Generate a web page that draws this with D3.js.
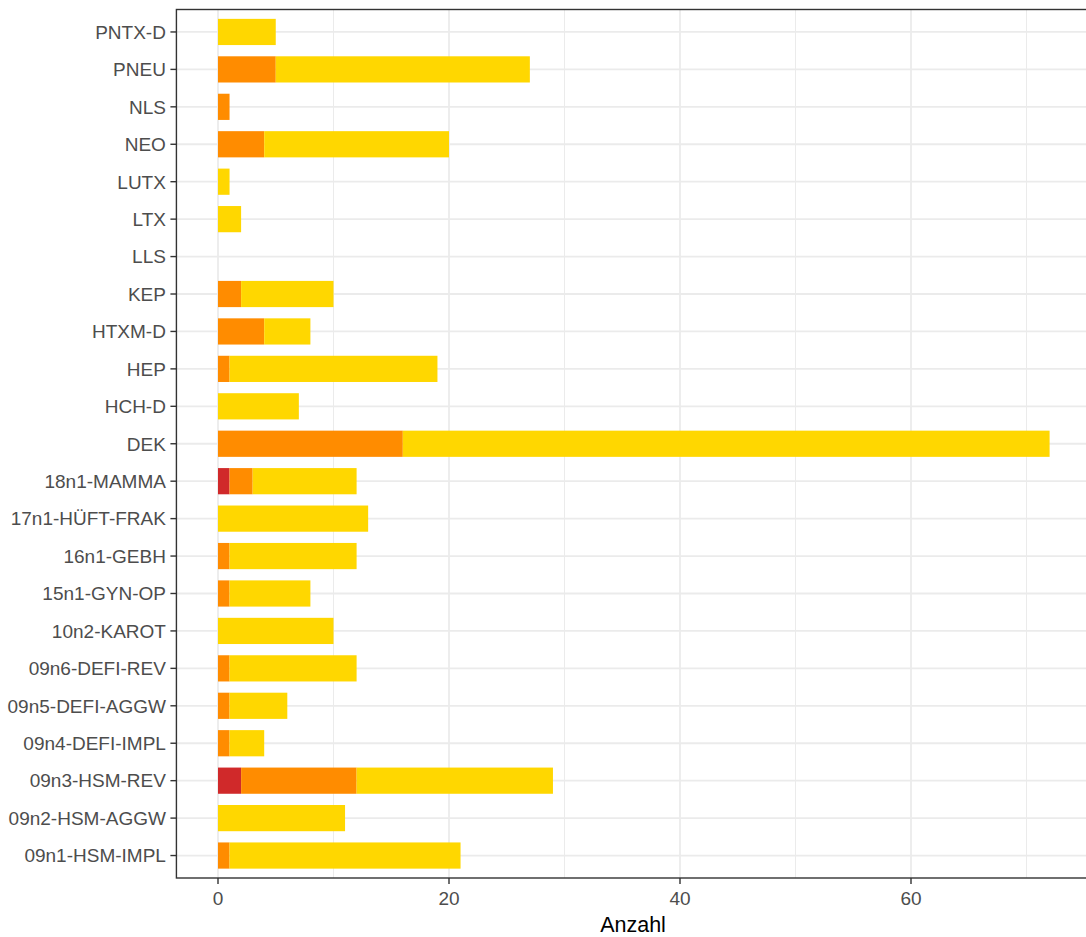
<!DOCTYPE html>
<html><head><meta charset="utf-8">
<script src="https://cdn.jsdelivr.net/npm/d3@7"></script>
<style>body{margin:0;background:#fff}svg{display:block}text{font-family:"Liberation Sans",Arial,sans-serif}</style>
</head><body><svg id="c" width="1086" height="937"></svg>
<script>
const categories = ["09n1-HSM-IMPL","09n2-HSM-AGGW","09n3-HSM-REV","09n4-DEFI-IMPL","09n5-DEFI-AGGW","09n6-DEFI-REV","10n2-KAROT","15n1-GYN-OP","16n1-GEBH","17n1-HÜFT-FRAK","18n1-MAMMA","DEK","HCH-D","HEP","HTXM-D","KEP","LLS","LTX","LUTX","NEO","NLS","PNEU","PNTX-D"];
const redValues    = [0,0,2,0,0,0,0,0,0,0,1,0,0,0,0,0,0,0,0,0,0,0,0];
const orangeValues = [1,0,10,1,1,1,0,1,1,0,2,16,0,1,4,2,0,0,0,4,1,5,0];
const yellowValues = [20,11,17,3,5,11,10,7,11,13,9,56,7,18,4,8,0,2,1,16,0,22,5];
const seriesNames = ["red","orange","yellow"];
const seriesColors = ["#d0292a","#ff8c00","#ffd700"];
const xTicks = [0,20,40,60];
const xMinor = [10,30,50,70];

const rows = categories.map((c,i)=>({cat:c, red:redValues[i], orange:orangeValues[i], yellow:yellowValues[i]}));
const stack = d3.stack().keys(seriesNames)(rows);

const svg = d3.select("#c");
const T=9.5, B=878;
const maxV = d3.max(rows, d=>d.red+d.orange+d.yellow);
const pad = maxV*0.05;
const unit = 11.55;
const L = 218 - pad*unit, R = 218 + (maxV+pad)*unit;
const x = d3.scaleLinear().domain([-pad, maxV+pad]).range([L,R]);
const n = categories.length;
const y = d3.scalePoint().domain(categories).range([B - (B-T)/(n-1+1.2)*0.6, T + (B-T)/(n-1+1.2)*0.6]);
const step = y.step();
const yc = c => y(c);
const bh = step*0.7;

const g = svg.append("g");
g.selectAll(".mg").data(xMinor).join("line").attr("x1",d=>x(d)).attr("x2",d=>x(d)).attr("y1",T).attr("y2",B).attr("stroke","#ebebeb").attr("stroke-width",1);
g.selectAll(".Mg").data(xTicks).join("line").attr("x1",d=>x(d)).attr("x2",d=>x(d)).attr("y1",T).attr("y2",B).attr("stroke","#ebebeb").attr("stroke-width",1.8);
g.selectAll(".hg").data(categories).join("line").attr("x1",L).attr("x2",R).attr("y1",d=>yc(d)).attr("y2",d=>yc(d)).attr("stroke","#ebebeb").attr("stroke-width",1.8);

stack.forEach((s,k)=>{
  g.append("g").selectAll("rect").data(s.filter(d=>d[1]>d[0])).join("rect")
   .attr("x",d=>x(d[0])).attr("width",d=>x(d[1])-x(d[0]))
   .attr("y",d=>yc(d.data.cat)-bh/2).attr("height",bh)
   .attr("fill",seriesColors[k]);
});

svg.append("rect").attr("x",L).attr("y",T).attr("width",R-L).attr("height",B-T).attr("fill","none").attr("stroke","#333").attr("stroke-width",1.4);

const xa = svg.append("g");
xa.selectAll("line").data(xTicks).join("line").attr("x1",d=>x(d)).attr("x2",d=>x(d)).attr("y1",B).attr("y2",B+6).attr("stroke","#333").attr("stroke-width",1.4);
xa.selectAll("text").data(xTicks).join("text").attr("x",d=>x(d)).attr("y",905).attr("text-anchor","middle").attr("font-size",19).attr("fill","#4d4d4d").text(d=>d);
const ya = svg.append("g");
ya.selectAll("line").data(categories).join("line").attr("x1",L-6).attr("x2",L).attr("y1",d=>yc(d)).attr("y2",d=>yc(d)).attr("stroke","#333").attr("stroke-width",1.4);
ya.selectAll("text").data(categories).join("text").attr("x",L-10.5).attr("y",d=>yc(d)+6.8).attr("text-anchor","end").attr("font-size",19).attr("fill","#4d4d4d").text(d=>d);

svg.append("text").attr("x",(177+1085)/2+2).attr("y",932).attr("text-anchor","middle").attr("font-size",21.5).attr("fill","#000").text("Anzahl");
</script></body></html>
